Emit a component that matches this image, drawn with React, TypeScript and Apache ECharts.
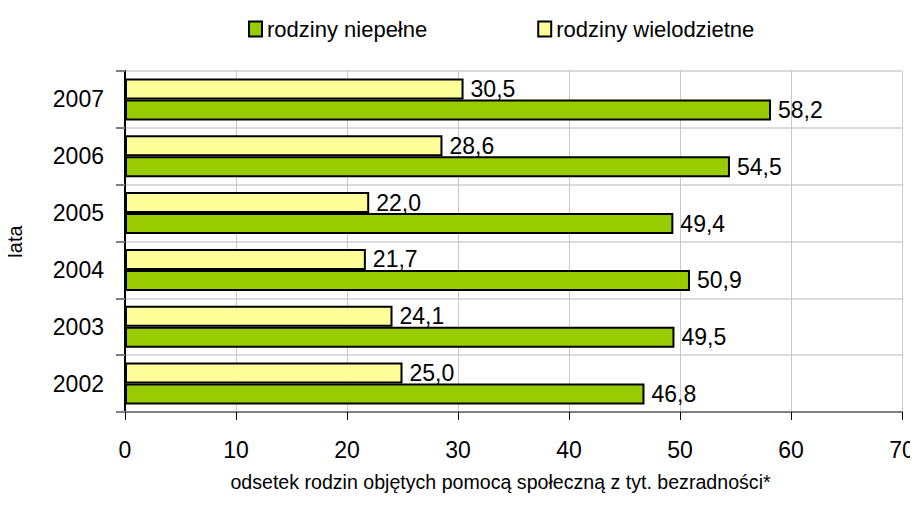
import React, { useEffect, useRef } from "react";
import * as echarts from "echarts";

const years = ["2002", "2003", "2004", "2005", "2006", "2007"];
const niepelne = [46.8, 49.5, 50.9, 49.4, 54.5, 58.2];
const wielodzietne = [25.0, 24.1, 21.7, 22.0, 28.6, 30.5];
const seriesNames = ["rodziny niepełne", "rodziny wielodzietne"];
const xAxisTitle = "odsetek rodzin objętych pomocą społeczną z tyt. bezradności*";
const yAxisTitle = "lata";

const FONT = "'Liberation Sans', Arial, sans-serif";

export default function App() {
  const ref = useRef<HTMLDivElement>(null);
  useEffect(() => {
    if (!ref.current) return;
    const chart = echarts.init(ref.current, null, { renderer: "svg" });
    const fmt = (p: any) => Number(p.value).toFixed(1).replace(".", ",");
    const label = {
      show: true,
      position: "right" as const,
      distance: 7,
      color: "#000",
      fontSize: 23,
      fontFamily: FONT,
      formatter: fmt,
    };
    chart.setOption({
      animation: false,
      backgroundColor: "#fff",
      textStyle: { fontFamily: FONT },
      legend: {
        top: 13,
        left: 243,
        itemWidth: 13,
        itemHeight: 15,
        itemGap: 110,
        icon: "rect",
        textStyle: { fontSize: 22, color: "#000", fontFamily: FONT },
        data: seriesNames,
      },
      grid: {
        left: 125,
        right: 16,
        top: 71,
        bottom: 109,
        containLabel: false,
        outerBoundsMode: "none",
      },
      xAxis: {
        type: "value",
        min: 0,
        max: 70,
        interval: 10,
        name: xAxisTitle,
        nameLocation: "middle",
        nameGap: 60,
        nameTextStyle: { fontSize: 19.6, color: "#000", fontFamily: FONT, padding: [0, 26, 0, 0] },
        axisLine: { show: true, lineStyle: { color: "#808080", width: 2 } },
        axisTick: { show: true, length: 8, lineStyle: { color: "#000", width: 1 } },
        axisLabel: { fontSize: 23, color: "#000", margin: 26, fontFamily: FONT },
        splitLine: { show: true, lineStyle: { color: "#c8c8c8", width: 1 } },
      },
      yAxis: {
        type: "category",
        data: years,
        name: yAxisTitle,
        nameLocation: "middle",
        nameRotate: 90,
        nameGap: 100,
        nameTextStyle: { fontSize: 20, color: "#000", fontFamily: FONT },
        axisLine: { show: true, lineStyle: { color: "#000", width: 2 } },
        axisTick: { show: true, length: 9, lineStyle: { color: "#808080", width: 2 } },
        axisLabel: { fontSize: 23, color: "#000", margin: 21, fontFamily: FONT },
        splitLine: { show: true, lineStyle: { color: "#dcdcdc", width: 2 } },
      },
      series: [
        {
          name: seriesNames[1],
          type: "bar",
          data: wielodzietne,
          barCategoryGap: "26%",
          barGap: "0%",
          itemStyle: { color: "#FFFF99", borderColor: "#000", borderWidth: 2 },
          label,
        },
        {
          name: seriesNames[0],
          type: "bar",
          data: niepelne,
          barCategoryGap: "26%",
          barGap: "0%",
          itemStyle: { color: "#99CC00", borderColor: "#000", borderWidth: 2 },
          label,
        },
      ],
    });
    return () => chart.dispose();
  }, []);
  return <div ref={ref} style={{ width: 918, height: 521, margin: -8 }} />;
}
